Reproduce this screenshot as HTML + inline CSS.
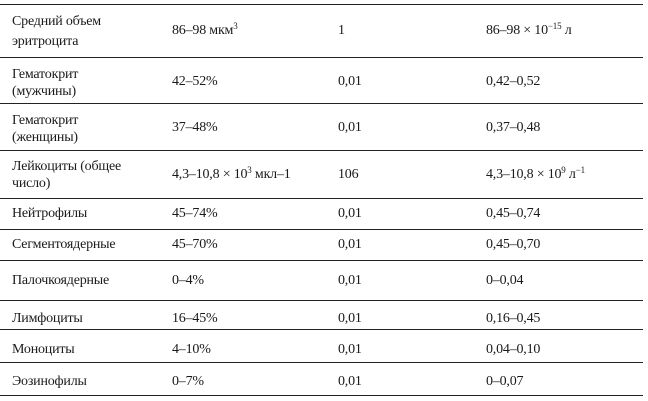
<!DOCTYPE html>
<html><head><meta charset="utf-8"><style>
html,body{margin:0;padding:0;background:#fff;width:648px;height:401px;overflow:hidden}
.l{position:absolute;left:0;width:643px;height:1.3px;background:#222}
.c{position:absolute;font-family:"Liberation Serif",serif;font-size:14px;line-height:17px;color:#1a1a1a;white-space:nowrap;letter-spacing:-0.2px}
sup{font-size:9px;vertical-align:5px;line-height:0}
</style></head><body>
<div class="l" style="top:4px"></div>
<div class="l" style="top:57px"></div>
<div class="l" style="top:103px"></div>
<div class="l" style="top:150px"></div>
<div class="l" style="top:198px"></div>
<div class="l" style="top:229px"></div>
<div class="l" style="top:260px"></div>
<div class="l" style="top:300px"></div>
<div class="l" style="top:329px"></div>
<div class="l" style="top:362px"></div>
<div class="l" style="top:395px"></div>

<div class="c" style="left:12px;top:12px;line-height:20px">Средний объем<br>эритроцита</div>
<div class="c" style="left:172px;top:22px">86–98 мкм<sup>3</sup></div>
<div class="c" style="left:338px;top:22px">1</div>
<div class="c" style="left:486px;top:22px">86–98 × 10<sup>−15</sup> л</div>

<div class="c" style="left:12px;top:66px">Гематокрит<br>(мужчины)</div>
<div class="c" style="left:172px;top:73px">42–52%</div>
<div class="c" style="left:338px;top:73px">0,01</div>
<div class="c" style="left:486px;top:73px">0,42–0,52</div>

<div class="c" style="left:12px;top:112px">Гематокрит<br>(женщины)</div>
<div class="c" style="left:172px;top:119px">37–48%</div>
<div class="c" style="left:338px;top:119px">0,01</div>
<div class="c" style="left:486px;top:119px">0,37–0,48</div>

<div class="c" style="left:12px;top:158px">Лейкоциты (общее<br>число)</div>
<div class="c" style="left:172px;top:166px">4,3–10,8 × 10<sup>3</sup> мкл–1</div>
<div class="c" style="left:338px;top:166px">106</div>
<div class="c" style="left:486px;top:166px">4,3–10,8 × 10<sup>9</sup> л<sup>−1</sup></div>

<div class="c" style="left:12px;top:205px">Нейтрофилы</div>
<div class="c" style="left:172px;top:205px">45–74%</div>
<div class="c" style="left:338px;top:205px">0,01</div>
<div class="c" style="left:486px;top:205px">0,45–0,74</div>

<div class="c" style="left:12px;top:236px">Сегментоядерные</div>
<div class="c" style="left:172px;top:236px">45–70%</div>
<div class="c" style="left:338px;top:236px">0,01</div>
<div class="c" style="left:486px;top:236px">0,45–0,70</div>

<div class="c" style="left:12px;top:272px">Палочкоядерные</div>
<div class="c" style="left:172px;top:272px">0–4%</div>
<div class="c" style="left:338px;top:272px">0,01</div>
<div class="c" style="left:486px;top:272px">0–0,04</div>

<div class="c" style="left:12px;top:310px">Лимфоциты</div>
<div class="c" style="left:172px;top:310px">16–45%</div>
<div class="c" style="left:338px;top:310px">0,01</div>
<div class="c" style="left:486px;top:310px">0,16–0,45</div>

<div class="c" style="left:12px;top:341px">Моноциты</div>
<div class="c" style="left:172px;top:341px">4–10%</div>
<div class="c" style="left:338px;top:341px">0,01</div>
<div class="c" style="left:486px;top:341px">0,04–0,10</div>

<div class="c" style="left:12px;top:373px">Эозинофилы</div>
<div class="c" style="left:172px;top:373px">0–7%</div>
<div class="c" style="left:338px;top:373px">0,01</div>
<div class="c" style="left:486px;top:373px">0–0,07</div>
</body></html>
